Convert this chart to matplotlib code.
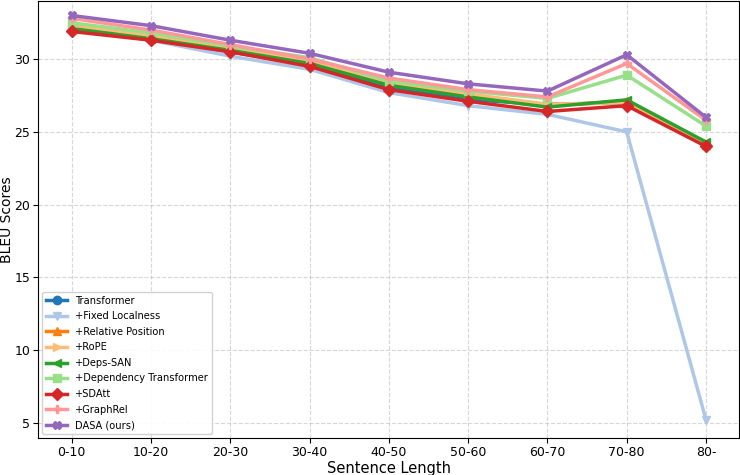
import matplotlib
matplotlib.use("Agg")
import matplotlib.pyplot as plt

categories = ["0-10", "10-20", "20-30", "30-40", "40-50", "50-60", "60-70", "70-80", "80-"]

transformer = [32.0, 31.4, 30.5, 29.6, 28.0, 27.2, 26.9, 27.0, 24.1]
fixed_localness = [32.0, 31.3, 30.2, 29.3, 27.7, 26.8, 26.2, 25.0, 5.2]
relative_position = [32.2, 31.5, 30.7, 29.8, 28.3, 27.5, 26.8, 27.1, 24.1]
rope = [32.3, 31.6, 30.8, 29.9, 28.4, 27.6, 26.9, 27.0, 24.2]
deps_san = [32.1, 31.4, 30.6, 29.7, 28.2, 27.4, 26.7, 27.2, 24.3]
dependency_transformer = [32.5, 31.8, 30.9, 30.1, 28.5, 27.8, 27.3, 28.9, 25.4]
sdatt = [31.9, 31.3, 30.5, 29.5, 27.9, 27.1, 26.4, 26.8, 24.0]
graphrel = [32.8, 32.0, 31.0, 30.0, 28.7, 27.9, 27.4, 29.7, 25.8]
dasa = [33.0, 32.3, 31.3, 30.4, 29.1, 28.3, 27.8, 30.3, 26.0]

series = [
    ("Transformer", transformer, "#1f77b4", "o"),
    ("+Fixed Localness", fixed_localness, "#aec7e8", "v"),
    ("+Relative Position", relative_position, "#ff7f0e", "^"),
    ("+RoPE", rope, "#ffbb78", ">"),
    ("+Deps-SAN", deps_san, "#2ca02c", "<"),
    ("+Dependency Transformer", dependency_transformer, "#98df8a", "s"),
    ("+SDAtt", sdatt, "#d62728", "D"),
    ("+GraphRel", graphrel, "#ff9896", "P"),
    ("DASA (ours)", dasa, "#9467bd", "X"),
]

fig = plt.figure(figsize=(7.4, 4.75), dpi=100)
ax = fig.add_axes([0.052, 0.078, 0.947, 0.92])

x = list(range(len(categories)))
for label, vals, color, marker in series:
    ax.plot(x, vals, color=color, marker=marker, linewidth=2.5, markersize=6, label=label)

ax.set_xticks(x)
ax.set_xticklabels(categories)
ax.tick_params(labelsize=9, pad=2.5)
ax.set_ylim(3.95, 34.0)
ax.set_xlim(-0.42, 8.42)
ax.set_yticks([5, 10, 15, 20, 25, 30])
ax.grid(True, linestyle="--", alpha=0.5)
ax.set_xlabel("Sentence Length", fontsize=10.5, labelpad=1)
ax.set_ylabel("BLEU Scores", fontsize=10)
ax.yaxis.set_label_coords(-0.035, 0.5)
ax.legend(loc="lower left", fontsize=7.1, framealpha=0.9, labelspacing=0.56,
          handlelength=2.1, borderaxespad=0.4)

fig.savefig("out.png", dpi=100)
